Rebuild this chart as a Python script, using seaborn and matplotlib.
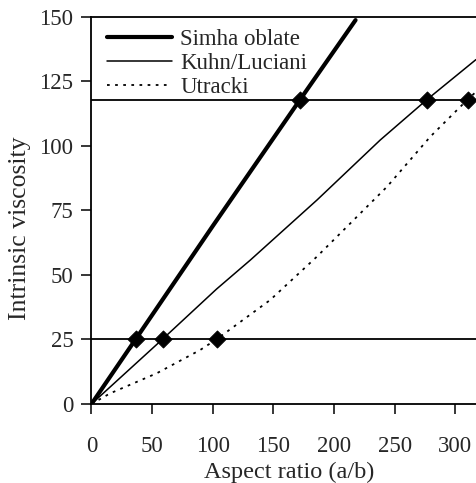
import matplotlib
matplotlib.use("Agg")
import matplotlib.pyplot as plt
import seaborn as sns
import numpy as np
import pandas as pd

# Data
simha_x = [0, 36.7, 100, 172, 217.7]
simha_y = [0, 25.3, 69.0, 118.0, 148.8]

kuhn_x = [0, 59, 103, 131, 186, 238, 276.6, 317]
kuhn_y = [0, 25.3, 44.5, 55.8, 79.1, 102.3, 118.0, 133.5]

utracki_x = [0, 15.3, 53.8, 89.5, 103.8, 147.3, 185.8, 207.8, 243.6, 279.3, 309.6, 317]
utracki_y = [0, 4.1, 11.9, 20.9, 25.3, 40.3, 57.1, 67.4, 84.2, 103.6, 117.8, 121.0]

levels = [25.3, 118.0]
mark_x = [36.7, 59, 103.8, 172, 276.6, 310.4]
mark_y = [25.3, 25.3, 25.3, 118.0, 118.0, 118.0]

series_labels = ["Simha oblate", "Kuhn/Luciani", "Utracki"]
xticks = [0, 50, 100, 150, 200, 250, 300]
yticks = [0, 25, 50, 75, 100, 125, 150]

FS = 16.5

sns.set_style("ticks")
plt.rcParams['font.family'] = ['Liberation Serif', 'DejaVu Serif']

fig = plt.figure(figsize=(4.76, 4.83), dpi=100)
ax = fig.add_axes([0.1922, 0.1636, 0.8078, 0.8012])

sns.lineplot(x=simha_x, y=simha_y, ax=ax, color="black", linewidth=3.0,
             label=series_labels[0], sort=False)
sns.lineplot(x=kuhn_x, y=kuhn_y, ax=ax, color="black", linewidth=1.1,
             label=series_labels[1], sort=False)
sns.lineplot(x=utracki_x, y=utracki_y, ax=ax, color="black", linewidth=1.3,
             label=series_labels[2], sort=False)
ax.lines[-1].set_dashes((1.5, 3.0))

for lv in levels:
    ax.axhline(lv, color="black", linewidth=1.3, zorder=1)

sns.scatterplot(x=mark_x, y=mark_y, ax=ax, marker="D", s=75, color="black",
                edgecolor="black", zorder=5, legend=False)

ax.set_xlim(0, 317)
ax.set_ylim(0, 150)
ax.set_xticks(xticks)
ax.set_yticks(yticks)
ax.tick_params(axis="both", labelsize=FS, length=7, width=1.1, direction="out", color="black")
ax.tick_params(axis="x", pad=16)
ax.tick_params(axis="y", pad=6)
for s in ["left", "bottom", "top"]:
    ax.spines[s].set_visible(True)
    ax.spines[s].set_linewidth(1.3)
    ax.spines[s].set_color("black")
ax.spines["right"].set_visible(False)

ax.set_xlabel("Aspect ratio (a/b)", fontsize=17.5)
ax.set_ylabel("Intrinsic viscosity", fontsize=18.5)
ax.xaxis.set_label_coords(0.514, -0.150)
ax.yaxis.set_label_coords(-0.157, 0.455)

leg = ax.legend(loc="upper left", frameon=False, fontsize=FS, handlelength=2.85,
                handletextpad=0.35, labelspacing=0.14, borderaxespad=0.12,
                bbox_to_anchor=(0.009, 1.0))

fig.savefig("out.png", dpi=100)
